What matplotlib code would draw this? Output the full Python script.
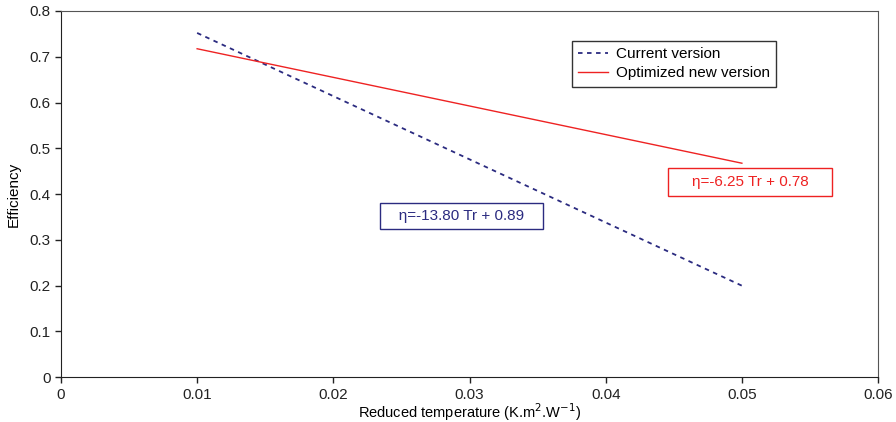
import matplotlib
matplotlib.use("Agg")
import matplotlib.pyplot as plt

plt.rcParams['font.family'] = ['Liberation Sans', 'DejaVu Sans']

x_current = [0.01, 0.05]
y_current = [0.752, 0.200]
x_opt = [0.01, 0.05]
y_opt = [0.7175, 0.4675]

label_current = "Current version"
label_opt = "Optimized new version"
eq_current = "η=-13.80 Tr + 0.89"
eq_opt = "η=-6.25 Tr + 0.78"

xticks = [0, 0.01, 0.02, 0.03, 0.04, 0.05, 0.06]
xticklabels = ["0", "0.01", "0.02", "0.03", "0.04", "0.05", "0.06"]
yticks = [0, 0.1, 0.2, 0.3, 0.4, 0.5, 0.6, 0.7, 0.8]
yticklabels = ["0", "0.1", "0.2", "0.3", "0.4", "0.5", "0.6", "0.7", "0.8"]

blue = "#2b2b80"
red = "#ee2222"
fs = 11

fig = plt.figure(figsize=(8.96, 4.22), dpi=100)
ax = fig.add_axes([0.068, 0.106, 0.912, 0.868])

ax.plot(x_current, y_current, color=blue, linestyle=(0, (2.5, 2.5)), linewidth=1.3, label=label_current)
ax.plot(x_opt, y_opt, color=red, linewidth=1.0, label=label_opt)

ax.set_xlim(0, 0.06)
ax.set_ylim(0, 0.8)
ax.set_xticks(xticks)
ax.set_xticklabels(xticklabels)
ax.set_yticks(yticks)
ax.set_yticklabels(yticklabels)
ax.tick_params(direction='out', length=4, width=1, labelsize=fs, colors='#222222')
ax.tick_params(axis='x', pad=4)
for s in ax.spines.values():
    s.set_color('#555555')
ax.spines['left'].set_color('#222222')
ax.spines['bottom'].set_color('#222222')

ax.set_xlabel("Reduced temperature (K.m$^2$.W$^{-1}$)", fontsize=10.5, labelpad=-0.5)
ax.set_ylabel("Efficiency", fontsize=fs, labelpad=6)

leg = ax.legend(loc='upper left', bbox_to_anchor=(0.625, 0.918), fancybox=False,
                edgecolor='black', fontsize=fs, handlelength=2.0, borderpad=0.4,
                labelspacing=0.35, handletextpad=0.5, borderaxespad=0)
leg.get_frame().set_linewidth(1.0)

ax.text(0.02938, 0.353, "   " + eq_current + "   ", color=blue, fontsize=fs, ha='center', va='center',
        bbox=dict(boxstyle='square,pad=0.4', facecolor='white', edgecolor=blue, linewidth=1.0))
ax.text(0.0506, 0.426, "    " + eq_opt + "    ", color=red, fontsize=fs, ha='center', va='center',
        bbox=dict(boxstyle='square,pad=0.45', facecolor='white', edgecolor=red, linewidth=1.0))

fig.savefig("out.png", dpi=100)
